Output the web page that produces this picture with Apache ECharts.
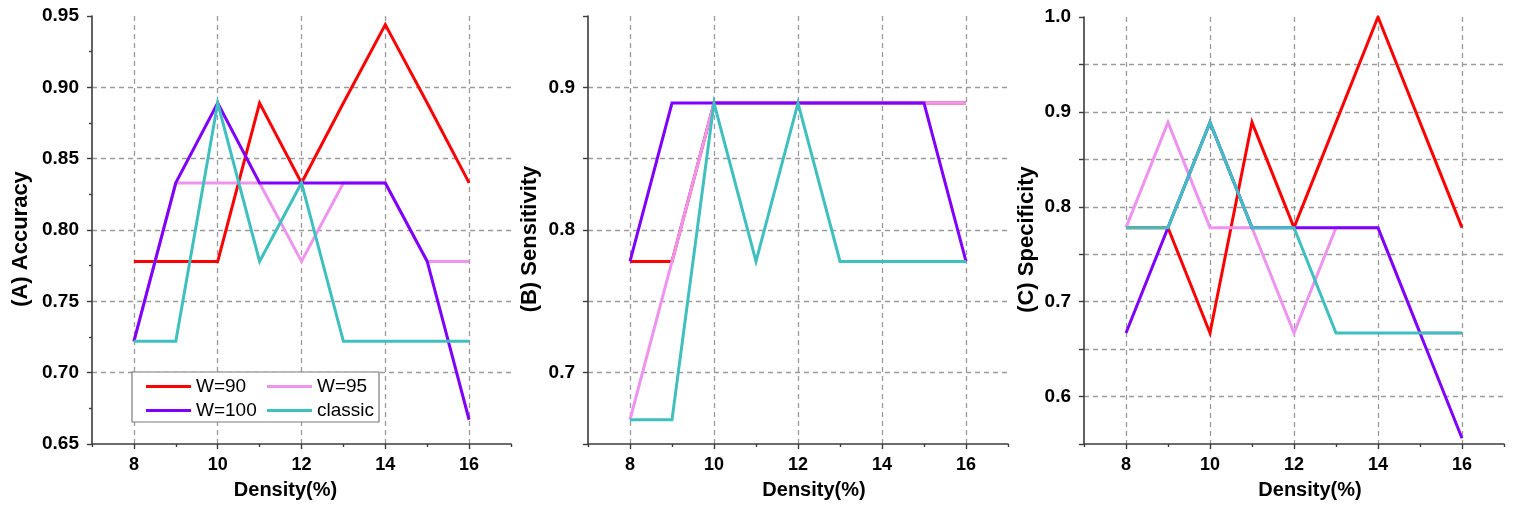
<!DOCTYPE html>
<html>
<head>
<meta charset="utf-8">
<script src="https://cdn.jsdelivr.net/npm/echarts@6/dist/echarts.min.js"></script>
<style>html,body{margin:0;padding:0;background:#fff}#c{width:1519px;height:510px}</style>
</head>
<body>
<div id="c"></div>
<script>
// ---- data ----
const densities = [8, 9, 10, 11, 12, 13, 14, 15, 16];
const xAxisValues = [7, 8, 9, 10, 11, 12, 13, 14, 15, 16, 17];
const seriesNames = ['W=90', 'W=95', 'W=100', 'classic'];
const seriesColors = ['#ff0000', '#ee94ee', '#8000ff', '#40bfbf'];

const acc90      = [0.778, 0.778, 0.778, 0.889, 0.833, 0.889, 0.944, 0.889, 0.833];
const acc95      = [0.722, 0.833, 0.833, 0.833, 0.778, 0.833, 0.833, 0.778, 0.778];
const acc100     = [0.722, 0.833, 0.889, 0.833, 0.833, 0.833, 0.833, 0.778, 0.667];
const accClassic = [0.722, 0.722, 0.889, 0.778, 0.833, 0.722, 0.722, 0.722, 0.722];

const sens90      = [0.778, 0.778, 0.889, 0.889, 0.889, 0.889, 0.889, 0.889, 0.889];
const sens95      = [0.667, 0.778, 0.889, 0.889, 0.889, 0.889, 0.889, 0.889, 0.889];
const sens100     = [0.778, 0.889, 0.889, 0.889, 0.889, 0.889, 0.889, 0.889, 0.778];
const sensClassic = [0.667, 0.667, 0.889, 0.778, 0.889, 0.778, 0.778, 0.778, 0.778];

const spec90      = [0.778, 0.778, 0.667, 0.889, 0.778, 0.889, 1.000, 0.889, 0.778];
const spec95      = [0.778, 0.889, 0.778, 0.778, 0.667, 0.778, 0.778, 0.667, 0.667];
const spec100     = [0.667, 0.778, 0.889, 0.778, 0.778, 0.778, 0.778, 0.667, 0.556];
const specClassic = [0.778, 0.778, 0.889, 0.778, 0.778, 0.667, 0.667, 0.667, 0.667];

const yNames = ['(A) Accuracy', '(B) Sensitivity', '(C) Specificity'];
const xName = 'Density(%)';
const yMins = [0.65, 0.65, 0.55];
const yMaxs = [0.95, 0.95, 1.00];
const yInterval = 0.05;

const panels = [
  [acc90, acc95, acc100, accClassic],
  [sens90, sens95, sens100, sensClassic],
  [spec90, spec95, spec100, specClassic]
];

// ---- layout ----
const FONT = 'Liberation Sans, Arial, sans-serif';
const grids = [
  {left: 92, top: 16, width: 419, height: 428},
  {left: 588, top: 16, width: 420, height: 428},
  {left: 1084, top: 17, width: 420, height: 427}
];
const yNameGaps = [60, 47, 46];
const xNamePads = [[0, 32, 0, 0], [0, 0, 0, 32], [0, 0, 0, 32]];
const axisColor = '#3c3c3c';
const gridLineStyle = {color: '#9a9a9a', width: 1.3, type: [5, 4]};

const xAxes = [], yAxes = [], series = [];
const cats = xAxisValues.map(String);
const isEven = (i, v) => Number(v) % 2 === 0;
const isOdd = (i, v) => Number(v) % 2 !== 0;

grids.forEach((g, gi) => {
  // main x axis: labels, major ticks, grid lines at even densities
  xAxes.push({
    type: 'category', gridIndex: gi, position: 'bottom', data: cats, boundaryGap: false,
    name: xName, nameLocation: 'middle', nameGap: 36,
    nameTextStyle: {fontSize: 20, fontWeight: 'bold', color: '#000', fontFamily: FONT, padding: xNamePads[gi]},
    axisLine: {lineStyle: {color: axisColor, width: 1.6}},
    axisTick: {interval: isEven, length: 5, lineStyle: {color: axisColor, width: 1.4}},
    axisLabel: {interval: isEven, margin: 12, fontSize: 18, fontWeight: 'bold', color: '#000', fontFamily: FONT},
    splitLine: {show: true, interval: isEven, lineStyle: gridLineStyle}
  });
  // minor tick axis at odd densities
  xAxes.push({
    type: 'category', gridIndex: gi, position: 'bottom', data: cats, boundaryGap: false,
    axisLine: {show: false},
    axisTick: {interval: isOdd, length: 3, lineStyle: {color: axisColor, width: 1.4}},
    axisLabel: {show: false},
    splitLine: {show: false}
  });
  yAxes.push({
    type: 'value', gridIndex: gi, min: yMins[gi], max: yMaxs[gi], interval: yInterval,
    name: yNames[gi], nameLocation: 'middle', nameGap: yNameGaps[gi],
    nameTextStyle: {fontSize: 22, fontWeight: 'bold', color: '#000', fontFamily: FONT, padding: [0, 18, 0, 0]},
    axisLine: {show: true, lineStyle: {color: axisColor, width: 1.6}},
    axisTick: {show: true, length: 5, lineStyle: {color: axisColor, width: 1.4}},
    minorTick: {show: gi === 0, splitNumber: 2, length: 3, lineStyle: {color: axisColor, width: 1.4}},
    axisLabel: {
      margin: 13, fontSize: 19, fontWeight: 'bold', color: '#000', fontFamily: FONT,
      formatter: v => {
        const k = Math.round(v * 100);
        if (gi === 0) return (k / 100).toFixed(2);
        return k % 10 === 0 ? (k / 100).toFixed(1) : '';
      }
    },
    splitLine: {show: true, showMinLine: false, showMaxLine: false, lineStyle: gridLineStyle}
  });
  panels[gi].forEach((vals, si) => {
    series.push({
      type: 'line', name: seriesNames[si], xAxisIndex: gi * 2, yAxisIndex: gi,
      data: densities.map((d, i) => [String(d), vals[i]]),
      symbol: 'none', color: seriesColors[si],
      lineStyle: {width: 3, color: seriesColors[si], join: 'miter'},
      z: 2 + si * 0.01
    });
  });
});

const legendCommon = {
  orient: 'vertical', top: 377, itemWidth: 45, itemHeight: 3, itemGap: 5,
  icon: 'rect', padding: 0, selectedMode: false,
  textStyle: {fontSize: 19, color: '#000', fontFamily: FONT}
};

const chart = echarts.init(document.getElementById('c'), null, {renderer: 'canvas'});
chart.setOption({
  animation: false,
  backgroundColor: '#fff',
  grid: grids,
  xAxis: xAxes,
  yAxis: yAxes,
  legend: [
    Object.assign({}, legendCommon, {left: 146, data: ['W=90', 'W=100']}),
    Object.assign({}, legendCommon, {left: 267, data: ['W=95', 'classic']})
  ],
  graphic: [{
    type: 'rect', z: 1, silent: true,
    shape: {x: 132, y: 372, width: 247, height: 50},
    style: {fill: '#fff', stroke: '#7a7a7a', lineWidth: 1.2}
  }],
  series: series
});
</script>
</body>
</html>
